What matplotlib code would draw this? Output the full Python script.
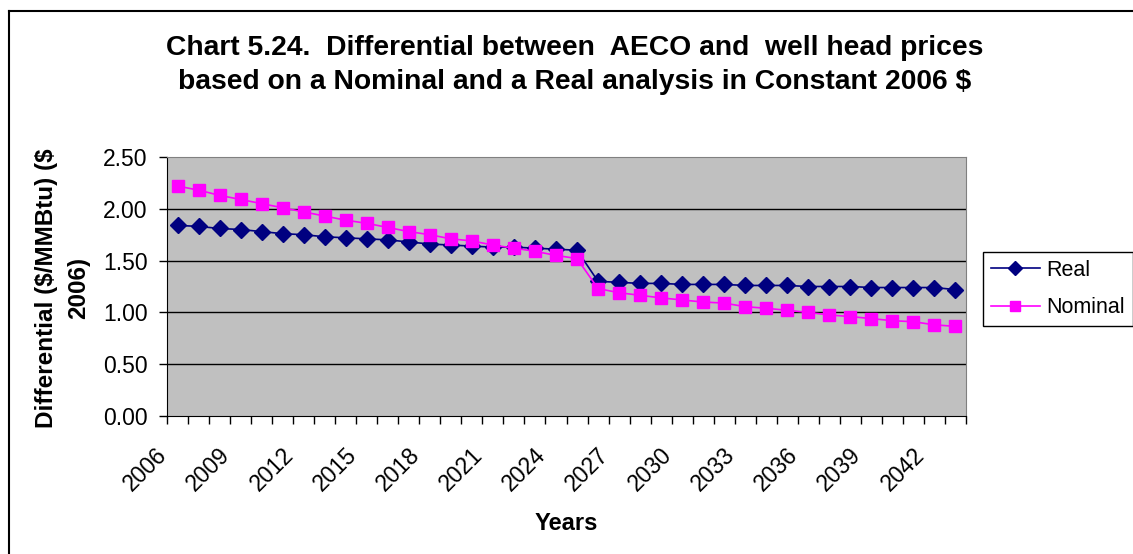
import numpy as np
import matplotlib.pyplot as plt
from matplotlib.lines import Line2D
from matplotlib.transforms import ScaledTranslation

plt.rcParams['font.family'] = ['Liberation Sans', 'DejaVu Sans']

years = list(range(2006, 2044))
real = [1.84, 1.83, 1.81, 1.80, 1.78, 1.76, 1.75, 1.73, 1.72, 1.71, 1.70, 1.68, 1.66,
        1.65, 1.64, 1.63, 1.63, 1.62, 1.61, 1.60,
        1.30, 1.29, 1.28, 1.28, 1.27, 1.27, 1.27,
        1.26, 1.26, 1.26, 1.25, 1.25, 1.25, 1.24, 1.24, 1.24, 1.24, 1.22]
nominal = [2.22, 2.18, 2.13, 2.09, 2.05, 2.01, 1.97, 1.93, 1.89, 1.86, 1.82, 1.78, 1.75, 1.71,
           1.69, 1.65, 1.62, 1.59, 1.55, 1.52,
           1.23, 1.19, 1.165, 1.14, 1.12, 1.10, 1.09,
           1.055, 1.04, 1.02, 1.00, 0.975, 0.96, 0.94, 0.92, 0.91, 0.88, 0.865]
yticks = [0.0, 0.5, 1.0, 1.5, 2.0, 2.5]

W, H = 1133, 554
fig = plt.figure(figsize=(W / 100, H / 100), dpi=100)
ax = fig.add_axes([167 / W, 1 - 416 / H, (966 - 167) / W, (416 - 157) / H])
ax.set_facecolor('#C0C0C0')

x = np.arange(len(years))
ax.plot(x, real, '-', color='#000080', lw=1.2, marker='D', ms=8.5, mfc='#000080', mec='#000080', label='Real')
ax.plot(x, nominal, '-', color='#FF00FF', lw=1.2, marker='s', ms=8.5, mfc='#FF00FF', mec='#FF00FF', label='Nominal')

ax.set_xlim(-0.5, len(years) - 0.5)
ax.set_ylim(0, 2.5)
ax.set_yticks(yticks)
ax.set_yticklabels(['%.2f' % v for v in yticks], fontsize=16.5)
for v in yticks[1:-1]:
    ax.axhline(v, color='black', lw=1, zorder=1)
ax.tick_params(axis='y', direction='out', length=6, width=1, pad=8)

# category ticks at boundaries, labels every 3 years
ax.set_xticks(np.arange(-0.5, len(years), 1.0), minor=True)
ax.tick_params(axis='x', which='minor', direction='out', length=6, width=1)
lab_idx = list(range(0, len(years), 3))
ax.set_xticks(lab_idx)
ax.set_xticklabels([str(years[i]) for i in lab_idx], fontsize=16.5, rotation=45,
                   ha='right', va='top', rotation_mode='anchor')
ax.tick_params(axis='x', which='major', length=0, pad=0)
off = ScaledTranslation(-0.22, -0.27, fig.dpi_scale_trans)
for t in ax.get_xticklabels():
    t.set_transform(t.get_transform() + off)

for s in ['left', 'bottom']:
    ax.spines[s].set_color('black')
for s in ['top', 'right']:
    ax.spines[s].set_color('#808080')

fig.text(575 / W, 1 - 48 / H, 'Chart 5.24.  Differential between  AECO and  well head prices',
         ha='center', va='center', fontsize=20.3, fontweight='bold')
fig.text(575 / W, 1 - 82 / H, 'based on a Nominal and a Real analysis in Constant 2006 \\$',
         ha='center', va='center', fontsize=20.3, fontweight='bold')
fig.text(566 / W, 1 - 523 / H, 'Years', ha='center', va='center', fontsize=17, fontweight='bold')

yl = fig.text(63 / W, 1 - 288 / H, 'Differential (\\$/MMBtu) (\\$\n2006)', ha='center', va='center',
              rotation=90, fontsize=17.5, fontweight='bold', linespacing=1.5, multialignment='center')
clip = plt.Rectangle((0, 0), 1, 1 - 147 / H, transform=fig.transFigure, visible=False)
fig.add_artist(clip)
yl.set_clip_path(clip)

# outer chart border (left and top visible)
fig.add_artist(Line2D([9 / W, 9 / W], [0, 1 - 11 / H], color='black', lw=1.5, transform=fig.transFigure))
fig.add_artist(Line2D([9 / W, 1], [1 - 11 / H, 1 - 11 / H], color='black', lw=1.5, transform=fig.transFigure))

leg = fig.legend(loc='center left', bbox_to_anchor=(983 / W, 1 - 289 / H), fontsize=15.5,
                 frameon=True, fancybox=False, edgecolor='black', framealpha=1,
                 handlelength=2.3, borderpad=0.35, labelspacing=0.75, handletextpad=0.3,
                 borderaxespad=0, markerscale=0.8)
leg.get_frame().set_linewidth(1)

fig.savefig('out.png', dpi=100)
